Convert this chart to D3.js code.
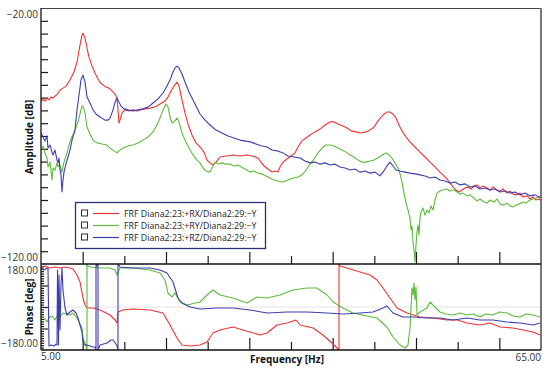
<!DOCTYPE html>
<html><head><meta charset="utf-8">
<script src="https://cdn.jsdelivr.net/npm/d3@7"></script>
<style>body{margin:0;background:#fff;} text{font-family:"Open Sans",sans-serif;}</style>
</head><body><svg id="c" width="550" height="368"></svg>
<script>
// ---------- data ----------
const freqDomain = [5, 65];
const ampDomain = [-120, -20];
const phaseDomain = [-180, 180];
const xMajorTicks = [10, 20, 30, 40, 50, 60];
const xMinorTicks = [15, 25, 35, 45, 55];
const ampTicks = [-25,-30,-35,-40,-45,-50,-55,-60,-65,-70,-75,-80,-85,-90,-95,-100,-105,-110,-115];
const phaseTicks = [90, 0, -90];
const phaseMinorTicks = [170,160,150,140,130,120,110,100,80,70,60,50,40,30,20,10,-10,-20,-30,-40,-50,-60,-70,-80,-100,-110,-120,-130,-140,-150,-160,-170];
const xLabels = ["5.00", "65.00"];
const ampLabels = ["\u221220.00", "\u2212120.00"];
const phaseLabels = ["180.00", "\u2212180.00"];
const seriesNames = ["FRF Diana2:23:+RX/Diana2:29:\u2212Y", "FRF Diana2:23:+RY/Diana2:29:\u2212Y", "FRF Diana2:23:+RZ/Diana2:29:\u2212Y"];
const seriesColors = ["#ee3333", "#5cbb3a", "#3d3fae"];

const ampRX = [[5.00,-56.8],[5.24,-55.5],[5.48,-56.4],[5.72,-55.2],[5.96,-55.9],[6.20,-54.8],[6.44,-55.2],[6.68,-54.4],[6.92,-53.9],[7.28,-52.0],[7.64,-51.3],[8.00,-50.5],[8.48,-48.1],[8.96,-45.0],[9.32,-41.1],[9.68,-34.5],[9.92,-30.6],[10.04,-29.8],[10.28,-31.7],[10.52,-35.7],[10.76,-39.2],[11.12,-42.7],[11.48,-45.4],[11.84,-47.7],[12.08,-49.0],[12.44,-50.1],[12.80,-50.9],[13.16,-51.3],[13.52,-52.4],[13.88,-53.6],[14.12,-55.2],[14.24,-59.8],[14.36,-64.9],[14.48,-63.8],[14.72,-61.0],[15.08,-59.8],[15.56,-60.2],[16.04,-59.8],[16.52,-60.2],[16.88,-59.8],[17.48,-59.4],[18.08,-59.1],[18.68,-58.7],[19.28,-57.5],[19.88,-56.3],[20.24,-54.8],[20.60,-52.4],[20.96,-50.5],[21.32,-48.9],[21.56,-50.5],[21.92,-55.9],[22.28,-61.0],[22.64,-65.3],[23.12,-69.6],[23.60,-72.7],[24.08,-74.3],[24.56,-76.3],[24.92,-79.4],[25.28,-80.5],[25.64,-81.3],[26.00,-80.2],[26.48,-78.2],[27.20,-77.8],[28.04,-77.4],[28.88,-77.8],[29.72,-77.4],[30.32,-77.8],[31.04,-78.6],[31.40,-80.2],[31.76,-81.7],[32.24,-82.9],[32.72,-84.1],[33.08,-83.7],[33.44,-84.1],[33.68,-82.1],[34.04,-80.2],[34.52,-79.0],[35.00,-77.8],[35.48,-76.6],[35.84,-74.3],[36.32,-71.9],[36.80,-70.8],[37.28,-69.6],[37.88,-68.4],[38.48,-67.3],[39.08,-65.7],[39.68,-64.5],[40.16,-64.5],[40.64,-65.3],[41.24,-66.1],[41.72,-66.9],[42.20,-68.0],[42.80,-68.4],[43.40,-68.8],[44.00,-68.4],[44.48,-67.7],[44.96,-66.5],[45.44,-64.1],[46.04,-61.8],[46.52,-60.6],[46.88,-60.6],[47.24,-61.4],[47.60,-63.0],[47.96,-65.7],[48.32,-68.0],[48.80,-70.4],[49.28,-72.3],[49.88,-74.3],[50.48,-76.3],[51.08,-78.2],[51.68,-80.2],[52.28,-82.1],[52.88,-84.1],[53.24,-85.2],[53.72,-86.8],[54.08,-88.4],[54.44,-89.9],[54.80,-91.1],[55.16,-91.9],[55.52,-91.1],[55.88,-90.3],[56.24,-89.9],[56.60,-90.7],[56.96,-89.5],[57.32,-89.1],[57.68,-90.3],[58.04,-89.5],[58.52,-90.3],[58.88,-91.1],[59.24,-89.9],[59.72,-91.1],[60.08,-91.5],[60.44,-90.7],[60.92,-92.3],[61.28,-91.5],[61.64,-92.7],[62.12,-93.0],[62.48,-92.3],[62.84,-93.8],[63.32,-93.4],[63.68,-94.6],[64.04,-93.8],[64.40,-95.0],[64.76,-94.6],[65.00,-95.4]];

const ampRY = [[5.00,-75.5],[5.24,-73.9],[5.48,-76.6],[5.72,-78.6],[5.84,-82.1],[6.08,-80.2],[6.32,-87.2],[6.44,-82.5],[6.68,-83.3],[6.92,-80.5],[7.04,-82.1],[7.28,-81.3],[7.52,-84.1],[7.76,-80.2],[8.12,-76.6],[8.48,-72.3],[8.72,-70.4],[9.08,-67.7],[9.44,-64.5],[9.68,-61.4],[9.92,-58.3],[10.04,-58.3],[10.28,-61.0],[10.52,-66.5],[10.88,-69.2],[11.24,-71.6],[11.72,-72.7],[12.32,-73.1],[12.92,-73.5],[13.28,-74.7],[13.64,-75.5],[14.12,-76.6],[14.48,-75.5],[14.84,-74.7],[15.44,-73.9],[16.04,-73.5],[16.64,-72.7],[17.24,-71.6],[17.84,-70.4],[18.44,-68.4],[18.92,-65.7],[19.28,-63.0],[19.64,-59.8],[20.00,-57.5],[20.24,-58.7],[20.48,-62.6],[20.72,-64.9],[20.96,-64.5],[21.32,-63.0],[21.56,-64.5],[21.92,-68.8],[22.28,-71.6],[22.76,-74.7],[23.24,-77.4],[23.72,-79.4],[24.08,-80.5],[24.44,-82.5],[24.80,-83.7],[25.28,-84.1],[25.64,-81.7],[25.88,-80.2],[26.24,-81.0],[26.72,-80.5],[27.20,-81.0],[27.68,-81.0],[28.16,-81.7],[28.64,-81.3],[29.24,-82.5],[29.72,-83.3],[30.08,-84.1],[30.56,-83.7],[31.04,-84.5],[31.52,-84.8],[32.00,-85.6],[32.48,-86.4],[32.96,-87.2],[33.44,-87.6],[33.92,-88.0],[34.40,-87.6],[34.88,-86.8],[35.36,-86.4],[35.84,-86.0],[36.32,-85.2],[36.80,-83.3],[37.28,-81.0],[37.76,-79.0],[38.24,-76.6],[38.72,-74.7],[39.20,-73.5],[39.68,-73.5],[40.16,-73.9],[40.64,-74.7],[41.12,-75.5],[41.60,-76.3],[42.08,-77.4],[42.56,-78.2],[43.04,-79.4],[43.52,-80.2],[44.00,-80.2],[44.48,-79.8],[44.96,-79.4],[45.44,-78.6],[45.92,-77.4],[46.40,-76.6],[46.76,-77.4],[47.12,-78.6],[47.48,-80.5],[47.84,-82.5],[48.08,-84.8],[48.32,-88.0],[48.56,-92.3],[48.80,-96.2],[49.04,-98.9],[49.28,-102.0],[49.40,-106.7],[49.52,-105.2],[49.64,-111.4],[49.76,-114.5],[49.88,-119.2],[50.00,-112.6],[50.12,-107.5],[50.24,-104.8],[50.36,-108.7],[50.48,-102.0],[50.60,-99.7],[50.84,-98.1],[51.08,-100.9],[51.32,-98.9],[51.56,-100.1],[51.80,-97.3],[52.04,-98.9],[52.28,-95.0],[52.52,-92.3],[52.88,-91.5],[53.24,-91.1],[53.72,-90.7],[54.08,-91.5],[54.56,-91.1],[54.92,-91.9],[55.28,-92.7],[55.64,-92.3],[56.12,-93.4],[56.48,-93.0],[56.96,-94.2],[57.32,-95.4],[57.68,-94.6],[58.16,-95.8],[58.52,-96.2],[58.88,-95.0],[59.36,-95.8],[59.72,-94.6],[60.08,-96.6],[60.56,-97.0],[60.92,-96.2],[61.28,-97.3],[61.64,-97.7],[62.00,-97.0],[62.36,-96.6],[62.84,-95.8],[63.20,-96.2],[63.68,-95.0],[64.04,-94.6],[64.40,-94.2],[65.00,-93.4]];

const ampRZ = [[5.00,-68.8],[5.24,-70.4],[5.48,-72.0],[5.72,-70.0],[5.84,-74.7],[6.08,-73.5],[6.32,-76.3],[6.44,-77.4],[6.68,-75.5],[6.92,-79.4],[7.04,-80.5],[7.16,-78.6],[7.28,-83.3],[7.40,-85.2],[7.52,-91.9],[7.64,-87.2],[7.76,-84.1],[7.88,-82.5],[8.12,-79.4],[8.24,-78.2],[8.48,-75.5],[8.72,-71.6],[9.08,-67.7],[9.32,-59.8],[9.56,-54.0],[9.80,-48.1],[10.04,-46.2],[10.28,-48.9],[10.52,-54.8],[10.88,-57.1],[11.24,-59.8],[11.60,-61.4],[12.08,-62.6],[12.68,-63.8],[13.04,-63.8],[13.28,-63.0],[13.64,-59.8],[13.88,-56.8],[14.12,-55.2],[14.36,-56.8],[14.60,-58.3],[14.96,-59.4],[15.44,-59.8],[16.04,-60.2],[16.64,-59.8],[17.24,-59.4],[17.84,-58.7],[18.44,-57.1],[19.04,-55.5],[19.64,-53.2],[20.12,-50.5],[20.48,-48.1],[20.84,-45.0],[21.08,-43.4],[21.32,-42.7],[21.56,-43.4],[21.92,-45.8],[22.28,-48.9],[22.76,-52.8],[23.24,-55.9],[23.72,-59.1],[24.08,-61.4],[24.68,-63.8],[25.28,-65.7],[26.00,-67.7],[26.72,-68.8],[27.44,-70.0],[28.16,-70.8],[28.88,-71.6],[29.60,-72.0],[30.08,-72.3],[30.80,-73.1],[31.52,-73.9],[32.12,-74.3],[32.72,-75.5],[33.32,-75.8],[34.04,-76.6],[34.64,-77.8],[35.36,-78.2],[36.08,-78.6],[36.68,-79.8],[37.28,-80.5],[37.88,-80.2],[38.48,-81.0],[39.08,-80.5],[39.68,-81.3],[40.28,-81.0],[40.88,-82.1],[41.48,-82.5],[42.08,-83.3],[42.68,-82.9],[43.28,-84.1],[43.88,-83.7],[44.48,-84.5],[45.08,-84.1],[45.68,-85.6],[46.04,-84.1],[46.52,-81.7],[46.88,-80.2],[47.24,-81.7],[47.60,-83.3],[48.08,-83.7],[48.68,-84.1],[49.28,-84.5],[49.88,-84.8],[50.48,-85.2],[51.08,-85.6],[51.68,-86.4],[52.28,-86.0],[52.88,-87.2],[53.48,-87.6],[54.08,-88.4],[54.68,-88.0],[55.28,-89.1],[55.88,-88.7],[56.48,-89.9],[57.08,-89.5],[57.68,-90.7],[58.28,-90.3],[58.88,-91.1],[59.48,-90.7],[60.08,-91.9],[60.68,-91.5],[61.28,-92.3],[61.88,-91.9],[62.48,-93.0],[63.08,-92.3],[63.68,-93.4],[64.28,-93.0],[65.00,-94.2]];

const phRX = [[5.00,163.3],[5.48,171.6],[6.08,163.3],[6.68,167.4],[7.28,163.3],[7.88,167.4],[8.48,163.3],[8.84,159.1],[9.32,134.0],[9.68,104.7],[10.04,37.7],[10.28,8.4],[10.52,-4.2],[11.24,-4.2],[12.08,-12.6],[13.28,-33.5],[13.88,-54.4],[14.12,-67.0],[14.24,-20.9],[14.84,-12.6],[16.04,-8.4],[18.08,-12.6],[19.64,-25.1],[20.48,-75.3],[21.32,-129.8],[21.92,-159.1],[22.88,-163.3],[24.08,-159.1],[24.92,-146.5],[25.64,-108.8],[26.48,-96.3],[28.04,-83.7],[29.24,-96.3],[30.08,-104.6],[31.28,-117.2],[32.12,-108.8],[33.32,-75.3],[34.52,-67.0],[35.60,-54.4],[36.08,-75.3],[37.64,-87.9],[38.84,-117.2],[39.92,-150.7],[40.64,-175.8],[40.76,-180],[40.76,180],[40.88,171.6],[41.72,163.3],[43.28,146.5],[44.48,134.0],[45.32,113.0],[46.04,79.5],[46.88,37.7],[47.72,-4.2],[48.92,-25.1],[50.48,-41.9],[52.04,-46.0],[53.72,-54.4],[54.92,-54.4],[56.12,-67.0],[57.68,-75.3],[58.88,-67.0],[60.08,-83.7],[61.64,-87.9],[62.84,-96.3],[64.04,-104.6],[64.88,-117.2]];

const phRY = [[5.00,-33.5],[5.24,-41.9],[5.48,-50.2],[5.72,-62.8],[5.96,-46.0],[6.20,-37.7],[6.44,-41.9],[6.68,-54.4],[6.92,-37.7],[7.04,-33.5],[7.28,-41.9],[7.64,-25.1],[8.00,-29.3],[8.48,-33.5],[8.84,-25.1],[9.32,-46.0],[9.92,-87.9],[10.04,-129.8],[10.28,-150.7],[10.40,-163.3],[10.52,-180],[10.52,180],[10.64,171.6],[10.88,167.4],[12.08,163.3],[13.28,163.3],[13.88,154.9],[14.12,134.0],[14.48,163.3],[16.04,163.3],[18.08,154.9],[19.28,142.3],[19.88,113.0],[20.24,58.6],[20.72,41.9],[21.08,58.6],[21.68,20.9],[22.52,8.4],[24.08,20.9],[24.92,50.2],[25.64,71.2],[26.48,50.2],[28.04,37.7],[29.72,16.7],[30.92,41.9],[32.12,37.7],[33.68,50.2],[35.24,71.2],[36.92,79.5],[38.12,79.5],[39.32,50.2],[40.04,20.9],[41.24,-4.2],[42.44,-25.1],[44.12,-37.7],[45.32,-46.0],[46.52,-83.7],[47.24,-125.6],[48.08,-159.1],[48.68,-171.6],[49.04,-159.1],[49.28,-87.9],[49.52,79.5],[49.64,50.2],[49.76,100.0],[49.88,29.3],[50.00,83.7],[50.12,-33.5],[50.48,-20.9],[51.32,-4.2],[51.68,20.9],[52.04,8.4],[52.88,-20.9],[53.60,-29.3],[54.44,-33.5],[55.30,-25.1],[56.12,-33.5],[56.90,-29.3],[57.68,-41.9],[58.40,-29.3],[59.24,-33.5],[60.00,-20.9],[60.92,-25.1],[61.70,-37.7],[62.48,-41.9],[63.20,-29.3],[64.04,-33.5],[64.88,-41.9]];

const phRZ = [[5.00,163.3],[5.36,154.9],[5.72,163.3],[5.84,163.3],[5.96,-163.3],[6.20,-159.1],[6.56,-163.3],[6.80,-155.0],[6.92,-159.1],[6.98,154.9],[7.04,29.3],[7.10,-159.1],[7.16,134.0],[7.28,-96.3],[7.40,92.0],[7.52,163.3],[7.64,71.2],[7.88,-4.2],[8.12,-33.5],[8.48,-20.9],[8.84,-12.6],[9.20,-25.1],[9.44,-46.0],[9.92,-104.6],[10.04,-146.5],[10.28,-159.1],[10.52,-159.1],[11.24,-167.4],[11.48,-167.4],[11.60,-180],[11.60,180],[11.72,171.6],[11.84,180],[11.84,-180],[12.08,-159.1],[12.92,-150.7],[13.40,-138.1],[13.64,-138.1],[14.00,-155.0],[14.12,-163.3],[14.24,-180],[14.24,180],[14.48,167.4],[16.04,163.3],[18.08,163.3],[19.28,154.9],[20.12,142.3],[20.84,104.7],[21.44,37.7],[21.92,16.7],[22.88,0],[24.08,-8.4],[26.12,-4.2],[28.04,-4.2],[30.08,-12.6],[32.12,-25.1],[34.52,-20.9],[36.92,-20.9],[39.32,-25.1],[41.24,-29.3],[43.28,-25.1],[44.84,-20.9],[46.04,-4.2],[46.52,4.2],[47.24,-25.1],[48.44,-41.9],[49.64,-41.9],[51.32,-46.0],[52.88,-46.0],[54.44,-54.4],[56.12,-46.0],[57.68,-54.4],[59.24,-54.4],[60.92,-62.8],[62.48,-67.0],[64.04,-75.3],[64.88,-67.0]];

// ---------- layout ----------
const L = 41, R = 541, ampTop = 8, ampBot = 264, phTop = 264, phBot = 350;
const svg = d3.select("#c");
const x = d3.scaleLinear().domain(freqDomain).range([L, R]);
const yA = d3.scaleLinear().domain(ampDomain).range([ampBot, ampTop]);
const yP = d3.scaleLinear().domain(phaseDomain).range([phBot, phTop]);

const defs = svg.append("defs");
defs.append("clipPath").attr("id","clipA").append("rect").attr("x",L).attr("y",ampTop).attr("width",R-L).attr("height",ampBot-ampTop);
defs.append("clipPath").attr("id","clipP").append("rect").attr("x",L).attr("y",phTop).attr("width",R-L).attr("height",phBot-phTop);

// zero grid line in phase
svg.append("line").attr("x1",L).attr("x2",R).attr("y1",yP(0)).attr("y2",yP(0)).attr("stroke","#e4e4e4").attr("stroke-width",1);

// axes (ticks inside)
function styleAxis(g){ g.select(".domain").remove(); g.selectAll(".tick line").attr("stroke","#1a1a1a").attr("stroke-width",1.2); g.selectAll(".tick text").remove(); }
svg.append("g").attr("transform",`translate(${L},0)`).call(d3.axisRight(yA).tickValues(ampTicks).tickSize(7).tickFormat("")).call(styleAxis);
svg.append("g").attr("transform",`translate(${L},0)`).call(d3.axisRight(yP).tickValues(phaseTicks).tickSize(7).tickFormat("")).call(styleAxis);
svg.append("g").attr("transform",`translate(${L},0)`).call(d3.axisRight(yP).tickValues(phaseMinorTicks).tickSize(3).tickFormat("")).call(styleAxis);
[ampBot, phBot].forEach(yy=>{
  svg.append("g").attr("transform",`translate(0,${yy})`).call(d3.axisTop(x).tickValues(xMajorTicks).tickSize(12).tickFormat("")).call(styleAxis);
  svg.append("g").attr("transform",`translate(0,${yy})`).call(d3.axisTop(x).tickValues(xMinorTicks).tickSize(8).tickFormat("")).call(styleAxis);
});

// lines
const lineA = d3.line().x(d=>x(d[0])).y(d=>yA(d[1]));
const lineP = d3.line().x(d=>x(d[0])).y(d=>yP(d[1]));
const ampSeries = [ampRX, ampRY, ampRZ];
const phSeries = [phRX, phRY, phRZ];
const gA = svg.append("g").attr("clip-path","url(#clipA)");
const gP = svg.append("g").attr("clip-path","url(#clipP)");
ampSeries.forEach((s,i)=>gA.append("path").attr("d",lineA(s)).attr("fill","none").attr("stroke",seriesColors[i]).attr("stroke-width",1.1).attr("stroke-linejoin","round"));
phSeries.forEach((s,i)=>gP.append("path").attr("d",lineP(s)).attr("fill","none").attr("stroke",seriesColors[i]).attr("stroke-width",1.1).attr("stroke-linejoin","round"));

// frame
svg.append("line").attr("x1",L).attr("x2",R).attr("y1",ampTop+0.5).attr("y2",ampTop+0.5).attr("stroke","#444").attr("stroke-width",1.2);
svg.append("line").attr("x1",R).attr("x2",R).attr("y1",ampTop).attr("y2",phBot).attr("stroke","#777").attr("stroke-width",2);
svg.append("line").attr("x1",L).attr("x2",L).attr("y1",ampTop).attr("y2",phBot).attr("stroke","#111").attr("stroke-width",1.3);
svg.append("line").attr("x1",L).attr("x2",R).attr("y1",ampBot).attr("y2",ampBot).attr("stroke","#111").attr("stroke-width",1.3);
svg.append("line").attr("x1",L).attr("x2",R).attr("y1",phBot).attr("y2",phBot).attr("stroke","#111").attr("stroke-width",1.3);

// end labels
const lab = (t,xx,yy,anchor)=>svg.append("text").text(t).attr("x",xx).attr("y",yy).attr("text-anchor",anchor).attr("font-size",10).attr("fill","#333");
lab(ampLabels[0], L-3, yA(ampDomain[1])+9.5, "end");
lab(ampLabels[1], L-3, yA(ampDomain[0])-3.5, "end");
lab(phaseLabels[0], L-3, yP(phaseDomain[1])+9.5, "end");
lab(phaseLabels[1], L-3, yP(phaseDomain[0])-3, "end");
lab(xLabels[0], x(freqDomain[0]), 360, "start");
lab(xLabels[1], x(freqDomain[1]), 361, "end");

// axis titles
svg.append("text").text("Frequency [Hz]").attr("x",(L+R)/2-4).attr("y",363).attr("text-anchor","middle").attr("font-size",10).attr("font-weight","bold").attr("fill","#111");
svg.append("text").text("Amplitude [dB]").attr("transform",`translate(33,${137}) rotate(-90)`).attr("text-anchor","middle").attr("font-size",10).attr("font-weight","bold").attr("fill","#111");
svg.append("text").text("Phase [deg]").attr("transform",`translate(33,${307}) rotate(-90)`).attr("text-anchor","middle").attr("font-size",10).attr("font-weight","bold").attr("fill","#111");

// legend
const lg = svg.append("g");
lg.append("rect").attr("x",75.5).attr("y",202.5).attr("width",190).attr("height",46).attr("fill","#fff").attr("stroke","#2b2f78").attr("stroke-width",1.3);
seriesNames.forEach((n,i)=>{
  const yy = 213.5 + i*12;
  lg.append("rect").attr("x",81.5).attr("y",yy-3.5).attr("width",6).attr("height",6).attr("fill","#fff").attr("stroke","#333").attr("stroke-width",1);
  lg.append("line").attr("x1",93).attr("x2",119).attr("y1",yy).attr("y2",yy).attr("stroke",seriesColors[i]).attr("stroke-width",1.2);
  lg.append("text").text(n).attr("x",124).attr("y",yy+3).attr("font-size",8.8).attr("fill","#222");
});
</script></body></html>
